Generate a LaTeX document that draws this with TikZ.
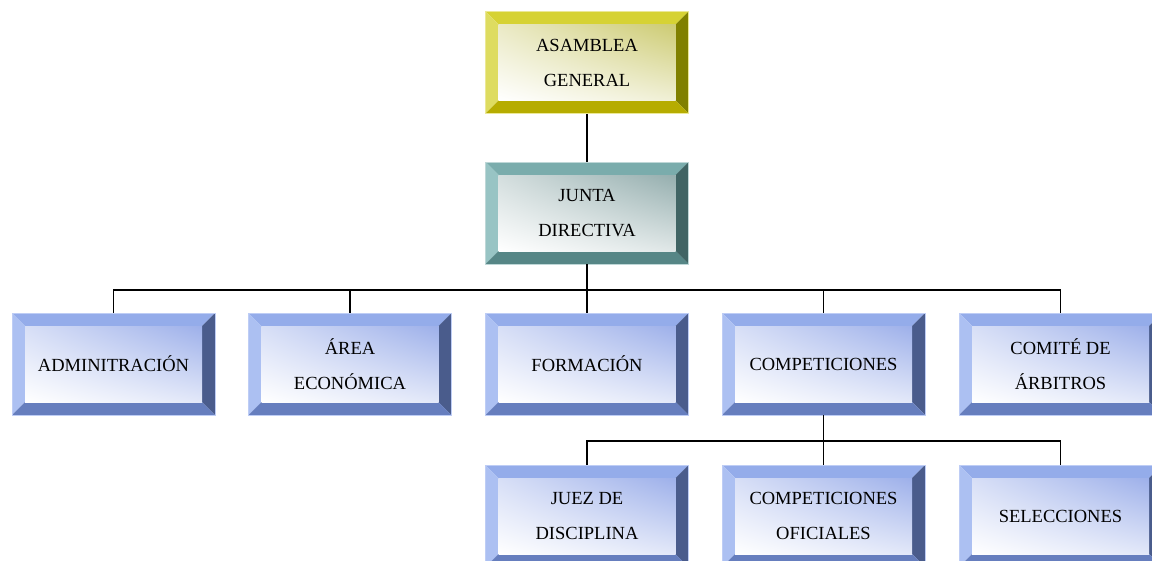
\documentclass[tikz,border=0pt]{standalone}
\usepackage{fontspec}
\setmainfont{Liberation Serif}
\usetikzlibrary{calc,shadings}
\definecolor{bluT}{RGB}{148,172,234}
\definecolor{bluL}{RGB}{172,192,242}
\definecolor{bluR}{RGB}{74,92,140}
\definecolor{bluB}{RGB}{102,126,190}
\definecolor{bluI}{RGB}{140,162,230}
\definecolor{bluE}{RGB}{190,205,245}
\definecolor{yelT}{RGB}{214,210,52}
\definecolor{yelL}{RGB}{222,220,96}
\definecolor{yelR}{RGB}{128,128,0}
\definecolor{yelB}{RGB}{182,172,0}
\definecolor{yelI}{RGB}{196,194,90}
\definecolor{yelE}{RGB}{235,232,150}
\definecolor{teaT}{RGB}{122,172,172}
\definecolor{teaL}{RGB}{152,196,196}
\definecolor{teaR}{RGB}{64,100,100}
\definecolor{teaB}{RGB}{86,134,134}
\definecolor{teaI}{RGB}{130,160,160}
\definecolor{teaE}{RGB}{190,215,215}
\newcommand\bevelfill[1]{%
  \fill[#1T] (path picture bounding box.north west) -- (path picture bounding box.north east)
     -- ($(path picture bounding box.north east)+(-13pt,-13pt)$) -- ($(path picture bounding box.north west)+(13pt,-13pt)$) -- cycle;
  \fill[#1L] (path picture bounding box.north west) -- (path picture bounding box.south west)
     -- ($(path picture bounding box.south west)+(13pt,13pt)$) -- ($(path picture bounding box.north west)+(13pt,-13pt)$) -- cycle;
  \fill[#1R] (path picture bounding box.north east) -- (path picture bounding box.south east)
     -- ($(path picture bounding box.south east)+(-13pt,13pt)$) -- ($(path picture bounding box.north east)+(-13pt,-13pt)$) -- cycle;
  \fill[#1B] (path picture bounding box.south west) -- (path picture bounding box.south east)
     -- ($(path picture bounding box.south east)+(-13pt,13pt)$) -- ($(path picture bounding box.south west)+(13pt,13pt)$) -- cycle;
  \shade[upper left=#1I!35, upper right=#1I!85, lower left=white, lower right=#1I!25]
     ($(path picture bounding box.north west)+(13pt,-13pt)$) rectangle ($(path picture bounding box.south east)+(-13pt,13pt)$);
}
\tikzset{
  bevelbox/.style={rectangle, minimum width=203pt, minimum height=102pt, inner sep=0pt,
     align=center, font=\fontsize{18.5}{35}\selectfont, text=black,
     draw=#1E, line width=0.6pt, path picture={\bevelfill{#1}}},
  conn/.style={draw=black, line width=1.6pt}
}
\begin{document}
\begin{tikzpicture}[x=1pt,y=-1pt]
\useasboundingbox (0,0) rectangle (1152,560);
\clip (0,0) rectangle (1152,560);
\node[bevelbox=yel] (asam) at (587,62.5) {ASAMBLEA\\GENERAL};
\node[bevelbox=tea] (junta) at (587,213) {JUNTA\\DIRECTIVA};
\node[bevelbox=blu] (adm) at (113.5,364) {ADMINITRACIÓN};
\node[bevelbox=blu] (area) at (350,364) {ÁREA\\ECONÓMICA};
\node[bevelbox=blu] (form) at (587,364) {FORMACIÓN};
\node[bevelbox=blu] (comp) at (823.5,364) {COMPETICIONES};
\node[bevelbox=blu] (comi) at (1060.5,364) {COMITÉ DE\\ÁRBITROS};
\node[bevelbox=blu] (juez) at (587,516) {JUEZ DE\\DISCIPLINA};
\node[bevelbox=blu] (cofi) at (823.5,516) {COMPETICIONES\\OFICIALES};
\node[bevelbox=blu] (sele) at (1060.5,516) {SELECCIONES};
\coordinate (bus1) at (587,290);
\coordinate (bus2) at (823.5,441);
\draw[conn] (asam.south) -- (junta.north);
\draw[conn] (junta.south) -- (bus1);
\foreach \n in {adm,area,form,comp,comi}{
  \draw[conn] (bus1) -| (\n.north);
}
\draw[conn] (comp.south) -- (bus2);
\foreach \n in {juez,cofi,sele}{
  \draw[conn] (bus2) -| (\n.north);
}
\end{tikzpicture}
\end{document}
